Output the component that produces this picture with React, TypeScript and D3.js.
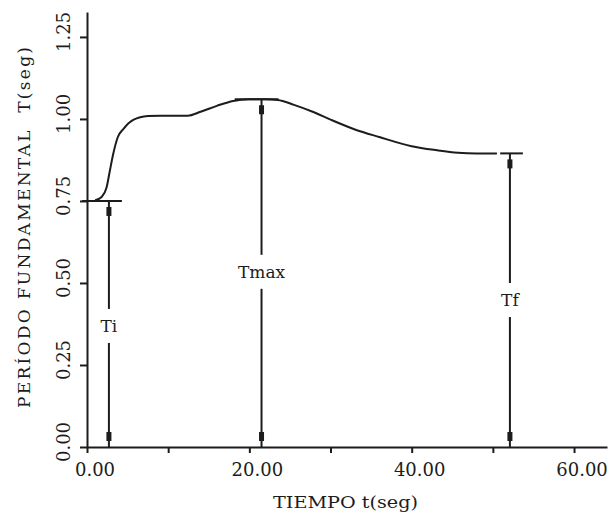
import React, { useEffect, useRef } from 'react';
import * as d3 from 'd3';

// curve T(t)
const times = [1, 1.8, 2.4, 2.8, 3.2, 3.8, 4.5, 5.7, 7.5, 9, 12.4, 14, 16, 18, 20, 22, 23.5, 25.5, 27.8, 30, 33, 36, 40, 43, 45.7, 48, 50.5];
const periods = [0.752, 0.762, 0.79, 0.84, 0.89, 0.945, 0.97, 0.997, 1.009, 1.01, 1.01, 1.022, 1.04, 1.055, 1.06, 1.06, 1.058, 1.043, 1.022, 0.998, 0.968, 0.945, 0.917, 0.905, 0.897, 0.895, 0.895];

// Ti / Tmax / Tf markers
const refNames = ['Ti', 'Tmax', 'Tf'];
const refTimes = [2.7, 21.5, 52.1];
const refValues = [0.75, 1.06, 0.895];
const refStart = [-0.6, 18.2, 50.9];
const refEnd = [4.3, 23.6, 53.7];
const refLabelAt = [0.369, 0.534, 0.448];

const xTicks = [0, 10, 20, 30, 40, 50, 60];
const yTicks = [0, 0.25, 0.5, 0.75, 1.0, 1.25];

const xTitle = 'TIEMPO t(seg)';
const yTitle = 'PERÍODO FUNDAMENTAL  T(seg)';

const width = 610;
const height = 514;
const ink = '#1c1c1c';
const font = "'DejaVu Serif', serif";

export default function App() {
    const ref = useRef<SVGSVGElement>(null);

    useEffect(() => {
        const svg = d3.select(ref.current);
        svg.selectAll('*').remove();

        const x = d3.scaleLinear().domain([0, 64.06]).range([87, 607]);
        const y = d3.scaleLinear().domain([0, 1.326]).range([447, 12]);

        const g = svg.append('g').style('font-family', font);

        // axes
        const xAxis = d3.axisBottom(x).tickValues(xTicks).tickSize(6).tickSizeOuter(0)
            .tickFormat(() => '');
        const yAxis = d3.axisLeft(y).tickValues(yTicks).tickSize(7).tickSizeOuter(0)
            .tickFormat(() => '');

        const gx = g.append('g').attr('transform', `translate(0,${y(0)})`).call(xAxis);
        const gy = g.append('g').attr('transform', `translate(${x(0)},0)`).call(yAxis);
        [gx, gy].forEach((a) => {
            a.selectAll('path, line').attr('stroke', ink).attr('stroke-width', 2);
        });

        // tick labels
        g.selectAll('.xlab')
            .data(xTicks.filter((d) => d % 20 === 0))
            .join('text')
            .attr('class', 'xlab')
            .attr('x', (d) => x(d) + 8)
            .attr('y', 476)
            .attr('text-anchor', 'middle')
            .style('font-family', font)
            .attr('font-size', 18)
            .attr('fill', ink)
            .text((d) => d.toFixed(2));

        g.selectAll('.ylab')
            .data(yTicks)
            .join('text')
            .attr('class', 'ylab')
            .attr('transform', (d) => `translate(63.5,${y(d) - 5}) rotate(-90)`)
            .attr('dy', '0.36em')
            .attr('text-anchor', 'middle')
            .style('font-family', font)
            .attr('font-size', 18)
            .attr('fill', ink)
            .text((d) => d.toFixed(2));

        // titles
        g.append('text')
            .attr('x', 345.5)
            .attr('y', 508)
            .attr('text-anchor', 'middle')
            .style('font-family', font)
            .attr('font-size', 17)
            .attr('textLength', 145)
            .attr('lengthAdjust', 'spacingAndGlyphs')
            .attr('fill', ink)
            .text(xTitle);

        g.append('text')
            .attr('transform', 'translate(23.5,227.5) rotate(-90)')
            .attr('dy', '0.36em')
            .attr('text-anchor', 'middle')
            .style('font-family', font)
            .attr('font-size', 17)
            .attr('textLength', 361)
            .attr('lengthAdjust', 'spacing')
            .style('white-space', 'pre')
            .attr('fill', ink)
            .text(yTitle);

        // curve
        const line = d3.line<number>()
            .x((d, i) => x(times[i]))
            .y((d) => y(d))
            .curve(d3.curveMonotoneX);

        g.append('path')
            .attr('d', line(periods))
            .attr('fill', 'none')
            .attr('stroke', ink)
            .attr('stroke-width', 2);

        // reference markers
        refNames.forEach((name, i) => {
            const cx = x(refTimes[i]);
            const top = y(refValues[i]);
            const bot = y(0);
            const ly = y(refLabelAt[i]);
            const gap = 17;

            g.append('line')
                .attr('x1', x(refStart[i])).attr('x2', x(refEnd[i]))
                .attr('y1', top).attr('y2', top)
                .attr('stroke', ink).attr('stroke-width', 2);

            g.append('line')
                .attr('x1', cx).attr('x2', cx)
                .attr('y1', top).attr('y2', ly - gap)
                .attr('stroke', ink).attr('stroke-width', 2);
            g.append('line')
                .attr('x1', cx).attr('x2', cx)
                .attr('y1', ly + gap).attr('y2', bot)
                .attr('stroke', ink).attr('stroke-width', 2);

            // little square heads at both ends
            g.append('rect')
                .attr('x', cx - 2.5).attr('y', top + 6)
                .attr('width', 5).attr('height', 9)
                .attr('fill', ink);
            g.append('rect')
                .attr('x', cx - 2.5).attr('y', bot - 15)
                .attr('width', 5).attr('height', 9)
                .attr('fill', ink);

            g.append('text')
                .attr('x', cx)
                .attr('y', ly)
                .attr('dy', '0.36em')
                .attr('text-anchor', 'middle')
                .style('font-family', font)
                .attr('font-size', 17)
                .attr('fill', ink)
                .text(name);
        });
    }, []);

    return (
        <svg
            ref={ref}
            width={width}
            height={height}
            style={{ position: 'absolute', left: 0, top: 0, background: '#fff' }}
        />
    );
}
